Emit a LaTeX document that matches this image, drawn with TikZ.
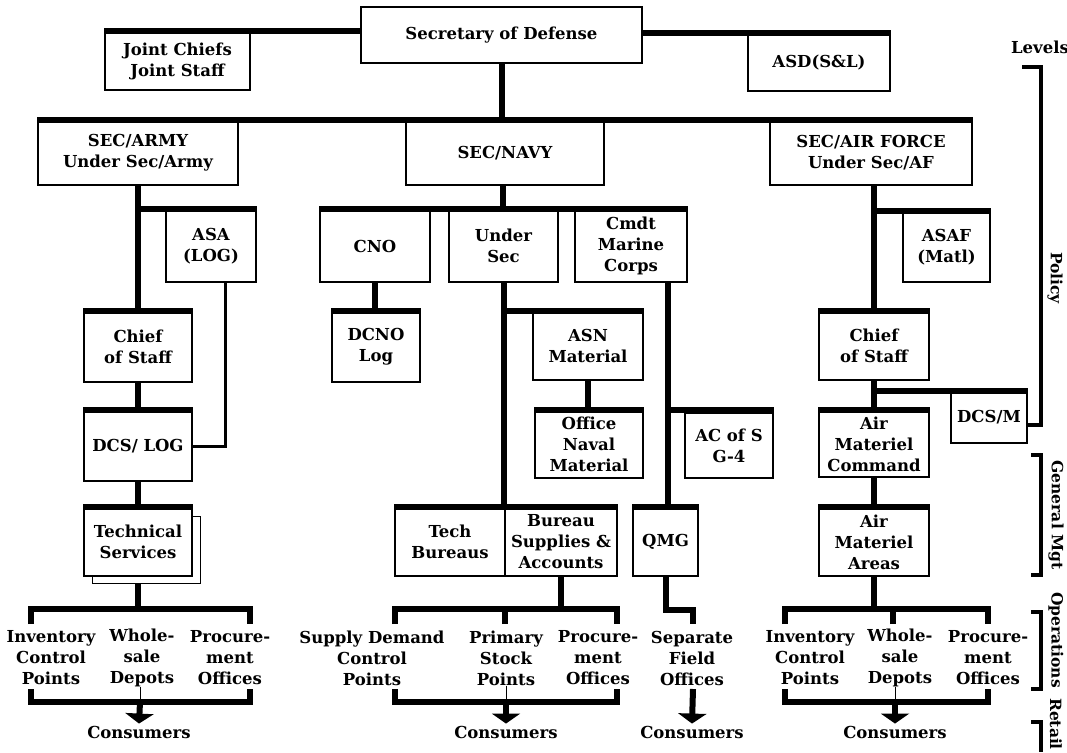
\documentclass[tikz,border=0pt]{standalone}
\usepackage{fontspec}
\setmainfont{DejaVu Serif}
\usetikzlibrary{arrows.meta}
\newcommand\bx[6]{\node[box, minimum width={#3-#2}, minimum height={#5-#4}] (#1) at ({(#2+#3)/2},{(#4+#5)/2}) {#6};}
\begin{document}
\begin{tikzpicture}[x=1pt,y=-1pt,
  txt/.style={font=\fontsize{16.5}{21}\selectfont\bfseries},
  box/.style={draw, line width=1.3pt, inner sep=0pt, align=center, txt},
  lbl/.style={inner sep=0pt, align=center, txt},
  side/.style={inner sep=0pt, rotate=-90, font=\fontsize{15.5}{19}\selectfont\bfseries},
  bar/.style={line width=6pt, line join=miter},
  link/.style={line width=3pt},
  thinl/.style={line width=1pt},
  brk/.style={line width=4pt, line join=miter},
  arr/.style={bar, -{Triangle[width=28pt,length=10pt]}}]
\useasboundingbox (0,0) rectangle (1067,752);

% ---------- top level
\bx{secdef}{361}{642}{7}{63}{Secretary of Defense}
\bx{jcs}{105}{250}{32}{90}{Joint Chiefs\\Joint Staff}
\bx{asd}{748}{890}{34}{91}{ASD(S\&L)}
\draw[bar] (jcs.north west) -- (jcs.north west -| secdef.west);
\draw[bar] (secdef.east |- asd.north) -- (asd.north east);

\bx{army}{38}{238}{121}{185}{SEC/ARMY\\Under Sec/Army}
\bx{navy}{406}{604}{121}{185}{SEC/NAVY}
\bx{airf}{770}{972}{121}{185}{SEC/AIR FORCE\\Under Sec/AF}
\draw[bar] (secdef.south) -- (secdef.south |- navy.north);
\draw[bar] (army.north west) -- (airf.north east);

% ---------- army
\bx{asa}{166}{256}{210}{282}{ASA\\(LOG)}
\bx{acos}{84}{192}{312}{382}{Chief\\of Staff}
\bx{dcslog}{84}{192}{411}{481}{DCS/ LOG}
\bx{tech}{84}{192}{508}{576}{Technical\\Services}
\draw[line width=1.3pt] ([xshift=9pt]tech.south west) -- ++(0,7) -| ([shift={(8,9)}]tech.north east) -- ([yshift=-9pt]tech.north east);
\draw[bar] (army.south) -- (army.south |- acos.north);
\draw[bar] (army.south |- asa.north) -- (asa.north east);
\draw[bar] (acos.north west) -- (acos.north east);
\draw[bar] (acos.south) -- (dcslog.north);
\draw[bar] (dcslog.north west) -- (dcslog.north east);
\draw[bar] (dcslog.south) -- (tech.north);
\draw[bar] (tech.north west) -- (tech.north east);
\coordinate (asaL) at (225,282);
\draw[link] (asaL) |- (dcslog.east);

\coordinate (a1) at (31,624); \coordinate (a3) at (250,624);
\draw[bar] ([yshift=-7pt]tech.south) -- (tech.south |- 0,609);
\draw[bar] (a1) -- ++(0,-15) -| (a3);
\node[lbl] (aInv) at (51,658) {Inventory\\Control\\Points};
\node[lbl] (aWh) at (142,658) {Whole-\\sale\\Depots};
\node[lbl] (aPr) at (230,658) {Procure-\\ment\\Offices};
\coordinate (b1) at (31,689); \coordinate (b3) at (250,689);
\draw[bar] (b1) -- ++(0,13) -| (b3);
\coordinate (b2) at (140,702);
\draw[thinl] (aWh.south -| b2) -- (b2);
\node[lbl] (aCons) at (139,732) {Consumers};
\draw[arr] (b2) -- ([yshift=2pt]aCons.north);

% ---------- navy
\bx{cno}{320}{430}{210}{282}{CNO}
\bx{usec}{449}{558}{210}{282}{Under\\Sec}
\bx{cmdt}{575}{687}{210}{282}{Cmdt\\Marine\\Corps}
\coordinate (nv) at (503,185);
\draw[bar] (nv) -- (nv |- cno.north);
\draw[bar] (cno.north west) -- (cmdt.north east);
\bx{dcno}{332}{420}{312}{382}{DCNO\\Log}
\draw[bar] (cno.south) -- (cno.south |- dcno.north);
\draw[bar] (dcno.north west) -- (dcno.north east);
\bx{asn}{533}{643}{312}{380}{ASN\\Material}
\bx{onm}{535}{643}{411}{478}{Office\\Naval\\Material}
\bx{acs}{685}{773}{413}{478}{AC of S\\G-4}
\bx{tb}{395}{505}{508}{576}{Tech\\Bureaus}
\bx{bsa}{505}{617}{508}{576}{Bureau\\Supplies \&\\Accounts}
\bx{qmg}{633}{698}{508}{576}{QMG}
\draw[bar] (usec.south) -- (usec.south |- tb.north);
\draw[bar] (usec.south |- asn.north) -- (asn.north east);
\draw[bar] (asn.south) -- (asn.south |- onm.north);
\draw[bar] (onm.north west) -- (onm.north east);
\coordinate (cmdtL) at (668,282);
\draw[bar] (cmdtL) -- (cmdtL |- qmg.north);
\draw[bar] (cmdtL |- 0,410) -- (acs.north east |- 0,410);
\draw[bar] (tb.north west) -- (bsa.north east);
\draw[bar] (qmg.north west) -- (qmg.north east);

\coordinate (n1) at (395,624); \coordinate (n2) at (505,624); \coordinate (n3) at (617,624);
\draw[bar] (bsa.south) -- (bsa.south |- 0,609);
\draw[bar] (n1) -- ++(0,-15) -| (n3);
\draw[bar] (n2) -- ++(0,-15);
\node[lbl] (nSup) at (372,658) {Supply Demand\\Control\\Points};
\node[lbl] (nPri) at (506,658) {Primary\\Stock\\Points};
\node[lbl] (nPr) at (598,658) {Procure-\\ment\\Offices};
\coordinate (m1) at (395,689); \coordinate (m3) at (617,689);
\draw[bar] (m1) -- ++(0,13) -| (m3);
\coordinate (m2) at (506,702);
\draw[thinl] (nPri.south -| m2) -- (m2);
\node[lbl] (nCons) at (506,732) {Consumers};
\draw[arr] (m2) -- ([yshift=2pt]nCons.north);

\coordinate (q1) at (693,624);
\draw[bar] (qmg.south) -- ++(0,33) -| (q1);
\node[lbl] (sfo) at (692,658) {Separate\\Field\\Offices};
\node[lbl] (qCons) at (692,732) {Consumers};
\coordinate (q2) at (693,689);
\draw[arr] (q2) -- ([yshift=2pt]qCons.north);

% ---------- air force
\bx{asaf}{903}{990}{212}{282}{ASAF\\(Matl)}
\bx{fcos}{819}{929}{312}{380}{Chief\\of Staff}
\bx{dcsm}{951}{1027}{392}{443}{DCS/M}
\bx{amc}{819}{929}{411}{477}{Air\\Materiel\\Command}
\bx{ama}{819}{929}{508}{576}{Air\\Materiel\\Areas}
\coordinate (fv) at (874,185);
\draw[bar] (fv) -- (fv |- fcos.north);
\draw[bar] (fv |- asaf.north) -- (asaf.north east);
\draw[bar] (fcos.north west) -- (fcos.north east);
\draw[bar] (fcos.south) -- (amc.north);
\draw[bar] (fcos.south |- dcsm.north) -- (dcsm.north east);
\draw[bar] (amc.north west) -- (amc.north east);
\draw[bar] (amc.south) -- (ama.north);
\draw[bar] (ama.north west) -- (ama.north east);

\coordinate (f1) at (785,624); \coordinate (f2) at (893,624); \coordinate (f3) at (988,624);
\draw[bar] (ama.south) -- (ama.south |- 0,609);
\draw[bar] (f1) -- ++(0,-15) -| (f3);
\draw[bar] (f2) -- ++(0,-15);
\node[lbl] (fInv) at (810,658) {Inventory\\Control\\Points};
\node[lbl] (fWh) at (900,658) {Whole-\\sale\\Depots};
\node[lbl] (fPr) at (988,658) {Procure-\\ment\\Offices};
\coordinate (g1) at (785,689); \coordinate (g3) at (988,689);
\draw[bar] (g1) -- ++(0,13) -| (g3);
\coordinate (g2) at (895,702);
\draw[thinl] (fWh.south -| g2) -- (g2);
\node[lbl] (fCons) at (895,732) {Consumers};
\draw[arr] (g2) -- ([yshift=2pt]fCons.north);

% ---------- levels
\node[lbl] (levels) at (1040,47) {Levels};
\coordinate (p0) at (1022,67);
\draw[brk] (p0) -| (1041,425) -- (dcsm.east |- 0,425);
\node[side] (policy) at (1055,278) {Policy};
\draw[brk] (1031,455) -| (1041,575) -- (1031,575);
\node[side] (genmgt) at (1056,515) {General Mgt};
\draw[brk] (1031,612) -| (1041,689) -- (1031,689);
\node[side] (ops) at (1056,640) {Operations};
\draw[brk] (1031,722) -| (1041,752);
\node[side] (retail) at (1056,724) {Retail};
\end{tikzpicture}
\end{document}
